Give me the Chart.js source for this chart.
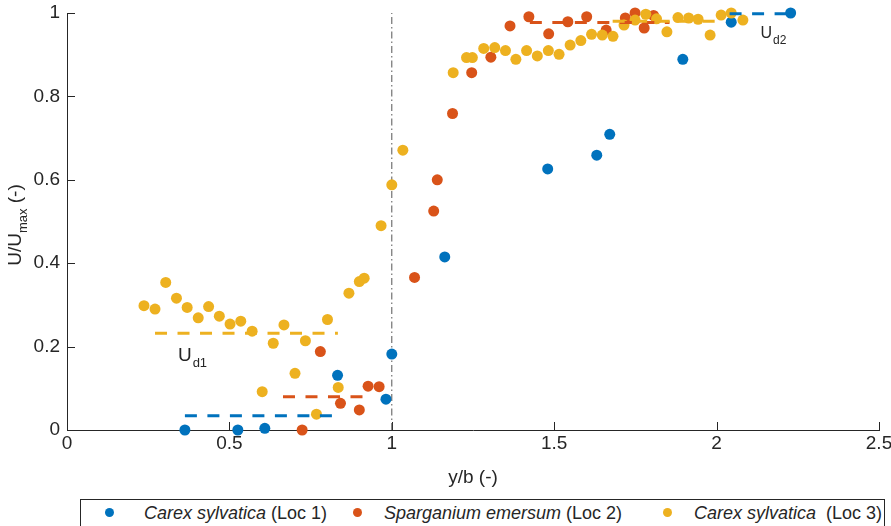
<!DOCTYPE html>
<html><head><meta charset="utf-8">
<script src="https://cdn.jsdelivr.net/npm/chart.js@4.4.1/dist/chart.umd.min.js"></script>
<style>
html,body{margin:0;padding:0;background:#fff;}
#wrap{position:relative;width:891px;height:526px;overflow:hidden;}
#c{position:absolute;left:0;top:0;}
#legend{position:absolute;left:80px;top:499px;width:805px;height:40px;border:1px solid #262626;box-sizing:border-box;font-family:"Liberation Sans",Arial,sans-serif;font-size:18px;color:#262626;background:#fff;}
.item{position:absolute;top:2px;white-space:nowrap;line-height:22px;}
.dot{position:absolute;width:9px;height:9px;border-radius:50%;top:8px;}
</style></head>
<body><div id="wrap"><canvas id="c" width="891" height="526"></canvas>
<div id="legend">
<span class="dot" style="left:24px;background:#0072BD"></span><span class="item" style="left:63px"><i>Carex sylvatica</i> (Loc 1)</span>
<span class="dot" style="left:272px;background:#D95319"></span><span class="item" style="left:303px"><i>Sparganium emersum</i> (Loc 2)</span>
<span class="dot" style="left:582px;background:#EDB120"></span><span class="item" style="left:613px"><i>Carex sylvatica</i>&nbsp; (Loc 3)</span>
</div></div>
<script>
const xTicks = [0, 0.5, 1, 1.5, 2, 2.5];
const yTicks = [0, 0.2, 0.4, 0.6, 0.8, 1];

const loc1X = [0.363, 0.526, 0.609, 0.833, 0.982, 1.0, 1.163, 1.48, 1.631, 1.671, 1.896, 2.045, 2.228];
const loc1Y = [0, 0, 0.004, 0.131, 0.074, 0.182, 0.415, 0.626, 0.659, 0.709, 0.889, 0.978, 1.0];

const loc2X = [0.724, 0.78, 0.842, 0.9, 0.927, 0.961, 1.07, 1.129, 1.14, 1.187, 1.246, 1.305, 1.364, 1.422, 1.483, 1.542, 1.6, 1.66, 1.719, 1.749, 1.777, 1.806];
const loc2Y = [0, 0.188, 0.064, 0.048, 0.105, 0.104, 0.366, 0.525, 0.6, 0.759, 0.857, 0.894, 0.969, 0.991, 0.95, 0.979, 0.991, 0.959, 0.988, 1.0, 0.964, 0.994];

const loc3X = [0.237, 0.271, 0.304, 0.337, 0.37, 0.404, 0.436, 0.469, 0.502, 0.535, 0.57, 0.601, 0.635, 0.668, 0.702, 0.734, 0.768, 0.802, 0.835, 0.868, 0.9, 0.915, 0.967, 1.0, 1.034, 1.189, 1.23, 1.248, 1.283, 1.317, 1.35, 1.382, 1.415, 1.448, 1.482, 1.515, 1.549, 1.582, 1.615, 1.648, 1.681, 1.715, 1.749, 1.782, 1.815, 1.847, 1.881, 1.914, 1.943, 1.98, 2.014, 2.045, 2.081];
const loc3Y = [0.298, 0.29, 0.354, 0.316, 0.294, 0.269, 0.296, 0.273, 0.254, 0.261, 0.237, 0.092, 0.208, 0.252, 0.136, 0.214, 0.038, 0.265, 0.102, 0.328, 0.356, 0.364, 0.49, 0.588, 0.671, 0.857, 0.893, 0.893, 0.915, 0.917, 0.91, 0.889, 0.91, 0.897, 0.91, 0.901, 0.923, 0.934, 0.949, 0.947, 0.944, 0.971, 0.983, 0.997, 0.986, 0.955, 0.989, 0.988, 0.985, 0.947, 0.995, 1.0, 0.983];

// Ud levels (dashed lines)
const ud1Loc1X = [0.363, 0.82], ud1Loc1Y = [0.034, 0.034];
const ud1Loc2X = [0.665, 0.91], ud1Loc2Y = [0.08, 0.08];
const ud1Loc3X = [0.271, 0.834], ud1Loc3Y = [0.232, 0.232];
const ud2Loc1X = [2.04, 2.23], ud2Loc1Y = [0.998, 0.998];
const ud2Loc2X = [1.425, 1.855], ud2Loc2Y = [0.977, 0.977];
const ud2Loc3X = [1.68, 2.0], ud2Loc3Y = [0.98, 0.98];
const refX = [1, 1], refY = [0, 1];

const labels = [
  {main: 'U', sub: 'd1', x: 0.3415, y: 0.1655, size: 19, subSize: 13},
  {main: 'U', sub: 'd2', x: 2.135, y: 0.94, size: 16, subSize: 12}
];

const C1 = '#0072BD', C2 = '#D95319', C3 = '#EDB120', AX = '#262626';
const FONT = '"Liberation Sans", Arial, sans-serif';

const pts = (xs, ys) => xs.map((x, i) => ({x: x, y: ys[i]}));
const scat = (label, xs, ys, c, order) => ({label, data: pts(xs, ys), backgroundColor: c, borderColor: c, borderWidth: 0, pointRadius: 5.5, pointHoverRadius: 5.5, showLine: false, clip: false, order});
const dash = (xs, ys, c, order) => ({data: pts(xs, ys), borderColor: c, borderWidth: 3, borderDash: [12, 10.5], pointRadius: 0, showLine: true, fill: false, clip: false, order});

const overlay = {
  id: 'overlay',
  beforeDatasetsDraw(chart) {
    const {ctx, chartArea: a, scales: {x, y}} = chart;
    ctx.save();
    ctx.strokeStyle = AX; ctx.lineWidth = 1;
    ctx.beginPath();
    xTicks.forEach(v => { const px = Math.round(x.getPixelForValue(v)) + 0.5; ctx.moveTo(px, a.bottom); ctx.lineTo(px, a.bottom - 8); });
    yTicks.forEach(v => { const py = Math.round(y.getPixelForValue(v)) + 0.5; ctx.moveTo(a.left, py); ctx.lineTo(a.left + 8, py); });
    ctx.stroke();
    ctx.restore();
  },
  afterDraw(chart) {
    const {ctx, chartArea: a, scales: {x, y}} = chart;
    ctx.save();
    ctx.fillStyle = AX;
    // x title
    ctx.font = '19px ' + FONT; ctx.textAlign = 'center'; ctx.textBaseline = 'middle';
    ctx.fillText('y/b (-)', (a.left + a.right) / 2, 478);
    // y title with subscript
    ctx.textAlign = 'left'; ctx.textBaseline = 'alphabetic';
    const mainF = '19px ' + FONT, subF = '13px ' + FONT;
    ctx.font = mainF; const w1 = ctx.measureText('U/U').width, w3 = ctx.measureText(' (-)').width;
    ctx.font = subF; const w2 = ctx.measureText('max').width;
    const tot = w1 + w2 + w3;
    ctx.translate(21, 225); ctx.rotate(-Math.PI / 2);
    let cx = -tot / 2;
    ctx.font = mainF; ctx.fillText('U/U', cx, 0); cx += w1;
    ctx.font = subF; ctx.fillText('max', cx, 6); cx += w2;
    ctx.font = mainF; ctx.fillText(' (-)', cx, 0);
    ctx.setTransform(1, 0, 0, 1, 0, 0);
    // Ud labels
    labels.forEach(l => {
      const px = x.getPixelForValue(l.x), py = y.getPixelForValue(l.y);
      ctx.font = l.size + 'px ' + FONT; ctx.fillText(l.main, px, py);
      const w = ctx.measureText(l.main).width;
      ctx.font = l.subSize + 'px ' + FONT; ctx.fillText(l.sub, px + w + 1, py + 6);
    });
    ctx.restore();
  }
};

new Chart(document.getElementById('c'), {
  type: 'scatter',
  data: {
    datasets: [
      {data: pts(refX, refY), borderColor: '#555555', borderWidth: 1, borderDash: [7, 3, 1.5, 3], pointRadius: 0, showLine: true, fill: false, order: 10},
      scat('Carex sylvatica (Loc 1)', loc1X, loc1Y, C1, 9),
      scat('Sparganium emersum (Loc 2)', loc2X, loc2Y, C2, 8),
      scat('Carex sylvatica (Loc 3)', loc3X, loc3Y, C3, 7),
      dash(ud1Loc1X, ud1Loc1Y, C1, 6),
      dash(ud2Loc1X, ud2Loc1Y, C1, 6),
      dash(ud1Loc2X, ud1Loc2Y, C2, 5),
      dash(ud2Loc2X, ud2Loc2Y, C2, 5),
      dash(ud1Loc3X, ud1Loc3Y, C3, 4),
      dash(ud2Loc3X, ud2Loc3Y, C3, 4)
    ]
  },
  options: {
    responsive: false,
    animation: false,
    events: [],
    layout: {padding: {top: 13, right: 12, left: 0, bottom: 0}},
    plugins: {legend: {display: false}, tooltip: {enabled: false}},
    scales: {
      x: {
        type: 'linear', min: 0, max: 2.5,
        afterFit: s => { s.height = 96; s.paddingLeft = 0; s.paddingRight = 0; },
        afterBuildTicks: s => { s.ticks = xTicks.map(v => ({value: v})); },
        ticks: {font: {family: FONT, size: 19}, color: AX, padding: 2, maxRotation: 0, callback: v => String(v)},
        grid: {display: true, drawOnChartArea: false, drawTicks: false},
        border: {display: true, color: AX, width: 1}
      },
      y: {
        type: 'linear', min: 0, max: 1,
        afterFit: s => { s.width = 67; s.paddingTop = 0; s.paddingBottom = 0; },
        afterBuildTicks: s => { s.ticks = yTicks.map(v => ({value: v})); },
        ticks: {font: {family: FONT, size: 19}, color: AX, padding: 7, callback: v => String(v)},
        grid: {display: true, drawOnChartArea: false, drawTicks: false},
        border: {display: true, color: AX, width: 1}
      }
    }
  },
  plugins: [overlay]
});
</script>
</body></html>
